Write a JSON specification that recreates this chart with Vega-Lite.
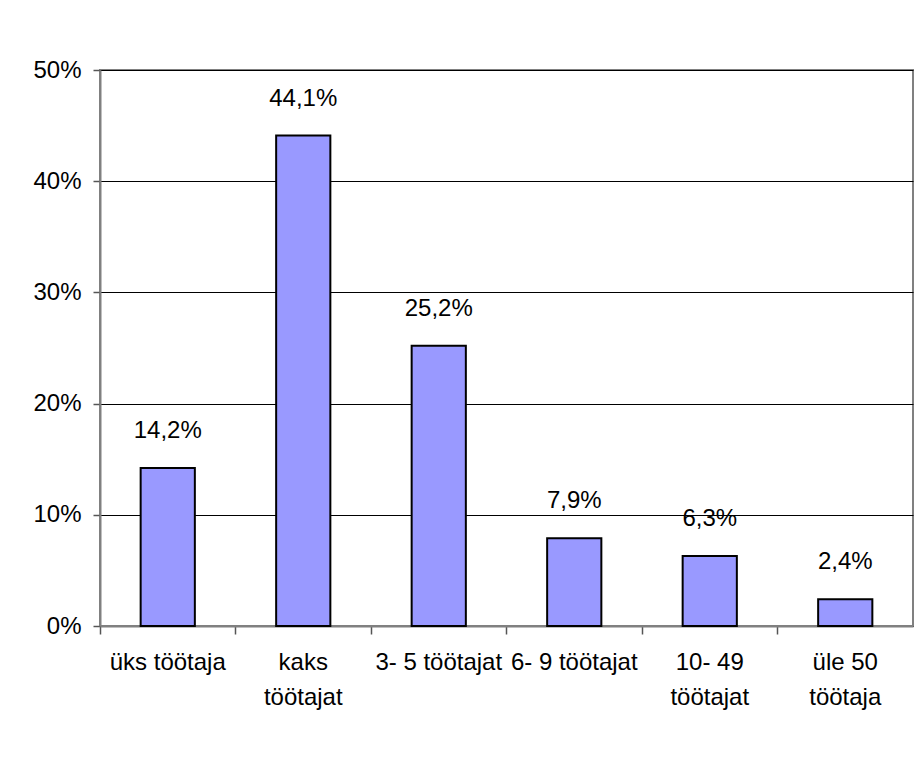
{
  "$schema": "https://vega.github.io/schema/vega-lite/v6.json",
  "width": 813,
  "height": 556,
  "padding": {"left": 100, "top": 70, "right": 3, "bottom": 158},
  "autosize": {"type": "none"},
  "background": "white",
  "data": {
    "values": [
      {"kategooria": "üks töötaja", "osakaal": 0.142},
      {"kategooria": "kaks töötajat", "osakaal": 0.441},
      {"kategooria": "3- 5 töötajat", "osakaal": 0.252},
      {"kategooria": "6- 9 töötajat", "osakaal": 0.079},
      {"kategooria": "10- 49 töötajat", "osakaal": 0.063},
      {"kategooria": "üle 50 töötaja", "osakaal": 0.024}
    ]
  },
  "encoding": {
    "x": {
      "field": "kategooria",
      "type": "nominal",
      "sort": null,
      "scale": {"paddingInner": 0, "paddingOuter": 0},
      "axis": {
        "title": null,
        "labelAngle": 0,
        "bandPosition": 0,
        "ticks": true,
        "tickSize": 8,
        "tickColor": "#555555",
        "tickWidth": 1.5,
        "domainColor": "#808080",
        "domainWidth": 2,
        "labelPadding": 16,
        "labelBaseline": "top",
        "labelLineHeight": 35,
        "labelFontSize": 24,
        "labelFont": "Liberation Sans, Arial, sans-serif",
        "labelColor": "black",
        "labelExpr": "datum.label == 'kaks töötajat' ? ['kaks', 'töötajat'] : datum.label == '10- 49 töötajat' ? ['10- 49', 'töötajat'] : datum.label == 'üle 50 töötaja' ? ['üle 50', 'töötaja'] : datum.label"
      }
    },
    "y": {
      "field": "osakaal",
      "type": "quantitative",
      "scale": {"domain": [0, 0.5], "nice": false},
      "axis": {
        "title": null,
        "values": [0, 0.1, 0.2, 0.3, 0.4, 0.5],
        "format": ".0%",
        "grid": true,
        "gridColor": "black",
        "gridWidth": 1,
        "gridOpacity": 1,
        "tickSize": 7,
        "tickColor": "#555555",
        "tickWidth": 1.5,
        "domainColor": "#808080",
        "domainWidth": 2,
        "labelPadding": 12,
        "labelFontSize": 24,
        "labelFont": "Liberation Sans, Arial, sans-serif",
        "labelColor": "black"
      }
    }
  },
  "layer": [
    {
      "mark": {"type": "bar", "fill": "#9999FF", "stroke": "black", "strokeWidth": 2, "width": {"band": 0.4}}
    },
    {
      "mark": {
        "type": "text",
        "baseline": "bottom",
        "dy": -25,
        "fontSize": 24,
        "font": "Liberation Sans, Arial, sans-serif",
        "color": "black"
      },
      "encoding": {
        "text": {"field": "osakaal", "type": "quantitative", "format": ".1%"}
      }
    }
  ],
  "config": {
    "locale": {
      "number": {"decimal": ",", "thousands": " ", "grouping": [3], "currency": ["", " €"]}
    },
    "view": {"stroke": "#808080", "strokeWidth": 2}
  }
}
